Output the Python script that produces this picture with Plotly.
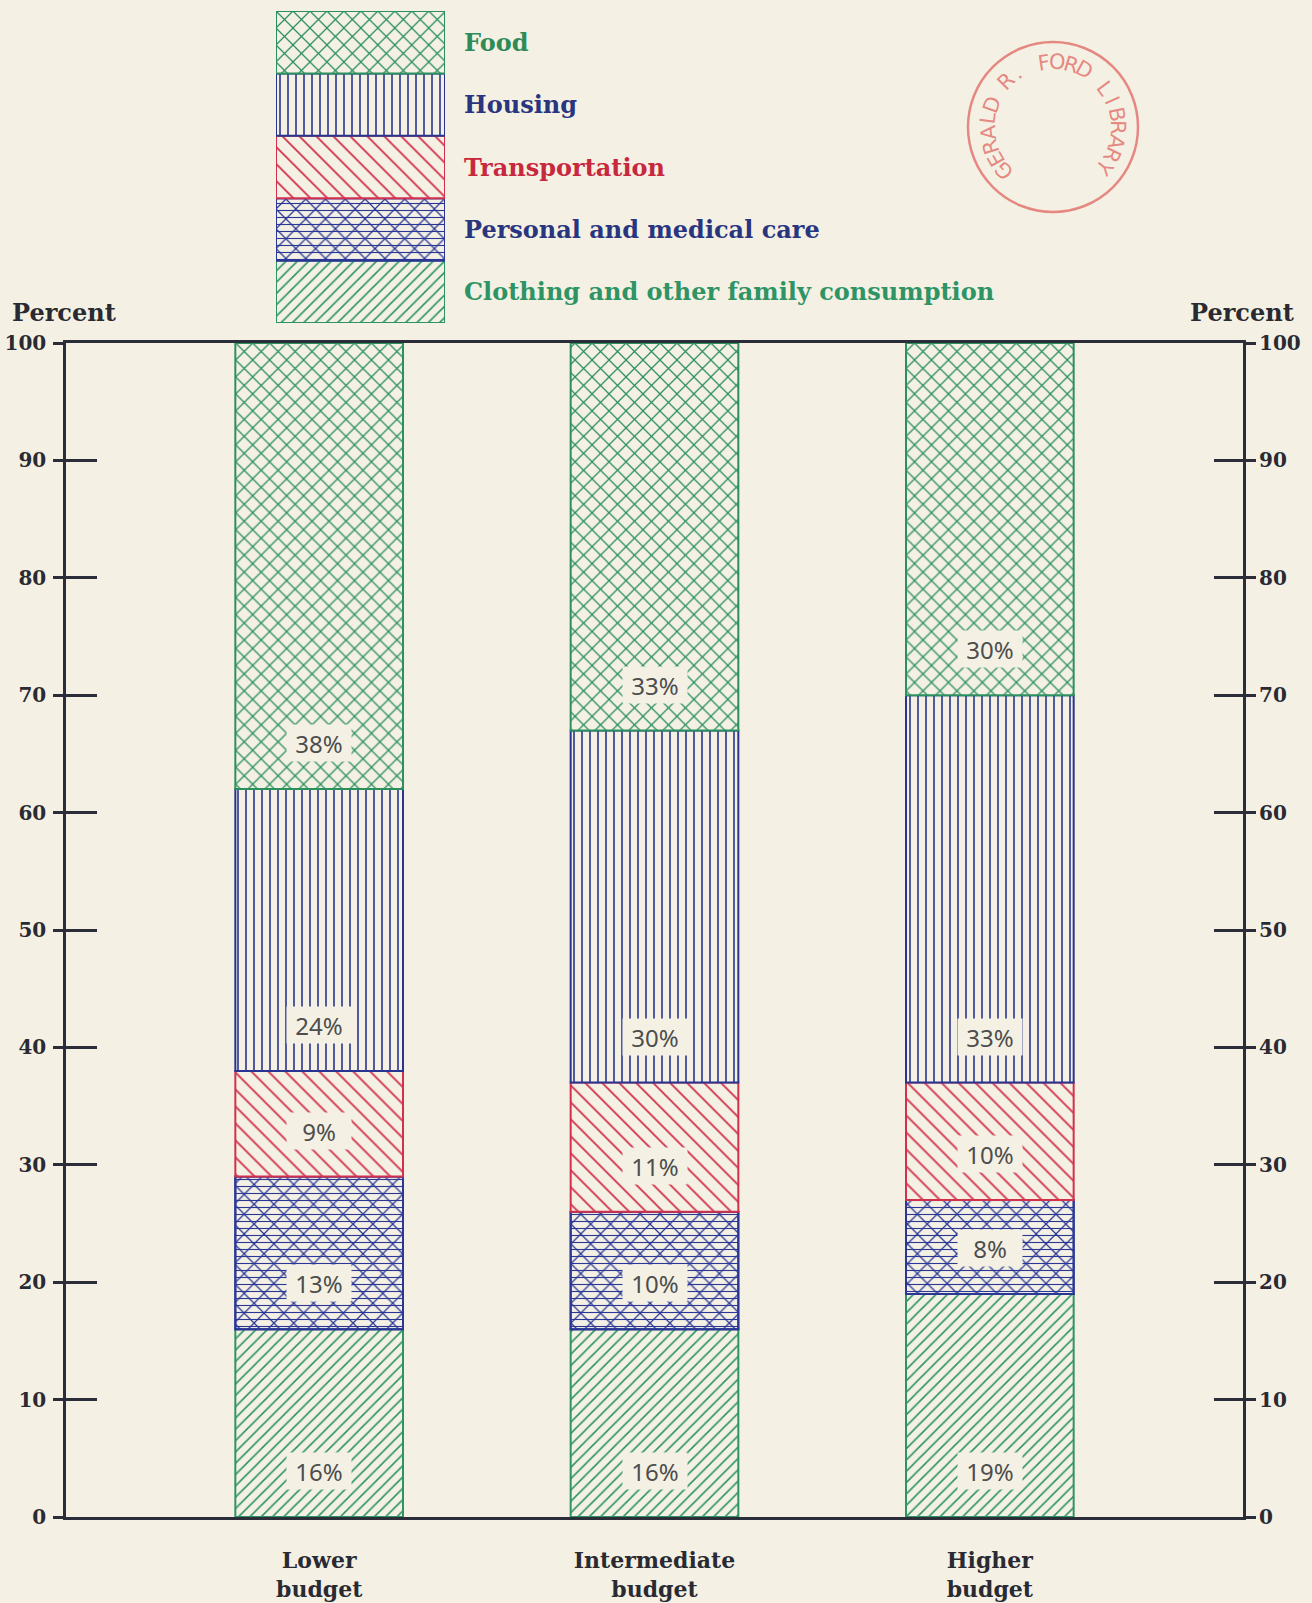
import numpy as np
import plotly.graph_objects as go

# budget levels and cost shares (percent), bottom segment first
budgets = ["Lower<br>budget", "Intermediate<br>budget", "Higher<br>budget"]
categories = ["Clothing and other family consumption", "Personal and medical care",
              "Transportation", "Housing", "Food"]
clothing = [16, 16, 19]
personal = [13, 10, 8]
transport = [9, 11, 10]
housing = [24, 30, 33]
food = [38, 33, 30]
shares = [clothing, personal, transport, housing, food]

pct_ticks = list(range(0, 101, 10))

PAPER = "#f4f1e4"
AXIS = "#2b2d3a"
styles = [
    dict(color="#2f9465", shape="/", size=8, sol=0.2, text="#2f9465"),
    dict(color="#2a3796", shape="x", size=14, sol=0.17, text="#2a3580"),
    dict(color="#d2304c", shape="\\", size=12, sol=0.15, text="#c8283e"),
    dict(color="#28348f", shape="|", size=8, sol=0.2, text="#2a3580"),
    dict(color="#2c8f5e", shape="x", size=12, sol=0.2, text="#2e8b57"),
]

W, H = 1312, 1603
L, R, T, B = 66, 69, 10, 86
pw, ph = W - L - R, H - T - B

fig = go.Figure()
x = np.arange(len(budgets))
bases = np.vstack([np.zeros(3), np.cumsum(shares, axis=0)[:-1]])


def seg(xv, yv, base, st, shape, size, sol, xa="x", ya="y", fill=PAPER):
    return go.Bar(x=xv, y=yv, base=base, width=0.5 if xa == "x" else 1,
                  xaxis=xa, yaxis=ya, showlegend=False, hoverinfo="skip",
                  marker=dict(color=fill, line=dict(color=st["color"], width=2),
                              pattern=dict(shape=shape, size=size, solidity=sol,
                                           fgcolor=st["color"], fgopacity=1,
                                           fillmode="overlay")))


for i, (vals, st) in enumerate(zip(shares, styles)):
    fig.add_trace(seg(x, vals, bases[i], st, st["shape"], st["size"], st["sol"]))
    fig.add_trace(seg([0], [1], [i], st, st["shape"], st["size"], st["sol"], "x2", "y2"))
    if i == 1:
        # extra horizontal lines turn the cross-hatch into triangles
        fig.add_trace(seg(x, vals, bases[i], st, "-", 7, 0.16, fill="rgba(0,0,0,0)"))
        fig.add_trace(seg([0], [1], [i], st, "-", 7, 0.16, "x2", "y2", fill="rgba(0,0,0,0)"))

# axes carrying the inside ticks and the right-hand labels
for ya in ["y3", "y4", "y5"]:
    fig.add_trace(go.Scatter(x=[None], y=[None], yaxis=ya, showlegend=False, hoverinfo="skip"))

serif = dict(family="DejaVu Serif", weight="bold", color="#2a2a33")
ydom = [0, (H - B - 343) / ph]
yrange = [0, 100]
no_auto = dict(automargin=False, showgrid=False, zeroline=False)

fig.update_layout(
    width=W, height=H, margin=dict(l=L, r=R, t=T, b=B, autoexpand=False),
    paper_bgcolor=PAPER, plot_bgcolor=PAPER, barmode="overlay",
    xaxis=dict(range=[-0.755, 2.755], tickvals=list(x), ticktext=budgets, ticks="",
               showline=True, mirror=True, linecolor=AXIS, linewidth=2.5,
               ticklabelstandoff=22, tickfont=dict(size=22, **serif), **no_auto),
    yaxis=dict(domain=ydom, range=yrange, tickvals=pct_ticks, ticks="outside", ticklen=10,
               tickwidth=2.5, tickcolor=AXIS, showline=True, mirror="allticks",
               linecolor=AXIS, linewidth=2.5,
               tickfont=dict(size=20, **serif), ticklabelstandoff=3, **no_auto),
    yaxis3=dict(overlaying="y", range=yrange, tickvals=pct_ticks[1:-1], ticks="inside",
                ticklen=31, tickwidth=2.5, tickcolor=AXIS, showticklabels=False,
                side="left", **no_auto),
    yaxis5=dict(overlaying="y", range=yrange, tickvals=pct_ticks[1:-1], ticks="inside",
                ticklen=29, tickwidth=2.5, tickcolor=AXIS, showticklabels=False,
                side="right", **no_auto),
    yaxis4=dict(overlaying="y", range=yrange, tickvals=pct_ticks, ticks="outside",
                ticklen=8, tickwidth=2.5, tickcolor=AXIS, side="right",
                tickfont=dict(size=20, **serif), ticklabelstandoff=3, **no_auto),
    xaxis2=dict(domain=[(276 - L) / pw, (445 - L) / pw], range=[-0.5, 0.5], anchor="y2",
                visible=False, automargin=False),
    yaxis2=dict(domain=[(H - B - 323) / ph, (H - B - 11) / ph], range=[0, len(categories)],
                anchor="x2", visible=False, automargin=False),
)

# percent labels inside the bars
for i, vals in enumerate(shares):
    for j, v in enumerate(vals):
        fig.add_annotation(x=x[j], y=bases[i][j] + 3.9, text=f"{v}%", showarrow=False,
                           bgcolor=PAPER, width=62, height=34,
                           font=dict(family="Noto Sans", size=24, color="#4d4d4d"))

# legend labels
for i, (name, st) in enumerate(zip(categories, styles)):
    fig.add_annotation(xref="paper", yref="y2", x=(462 - L) / pw, y=i + 0.5, text=name,
                       xanchor="left", showarrow=False,
                       font=dict(size=24, family="DejaVu Serif", weight="bold", color=st["text"]))

for xp, anchor in [(10, "left"), (1296, "right")]:
    fig.add_annotation(xref="paper", yref="paper", x=(xp - L) / pw, y=(H - B - 313) / ph,
                       text="Percent", xanchor=anchor, yanchor="middle", showarrow=False,
                       font=dict(size=24, **serif))

# archive stamp
cx, cy, rad = 1053, 127, 85
STAMP = "rgba(226,110,105,0.8)"
fig.add_shape(type="circle", xref="paper", yref="paper",
              x0=(cx - rad - L) / pw, x1=(cx + rad - L) / pw,
              y0=(H - B - cy - rad) / ph, y1=(H - B - cy + rad) / ph,
              line=dict(color=STAMP, width=2.5))
stamp = "GERALD R. FORD LIBRARY"
for k, ch in enumerate(stamp):
    th = 222 - k * (260 / (len(stamp) - 1))
    px = cx + 65 * np.cos(np.radians(th))
    py = cy - 65 * np.sin(np.radians(th))
    fig.add_annotation(xref="paper", yref="paper", x=(px - L) / pw, y=(H - B - py) / ph,
                       text=ch, showarrow=False, textangle=90 - th,
                       xanchor="center", yanchor="middle",
                       font=dict(family="DejaVu Sans", size=21, color=STAMP))

fig.write_html("out.html", config={"displayModeBar": False},
               post_script="document.body.style.margin='0';")
